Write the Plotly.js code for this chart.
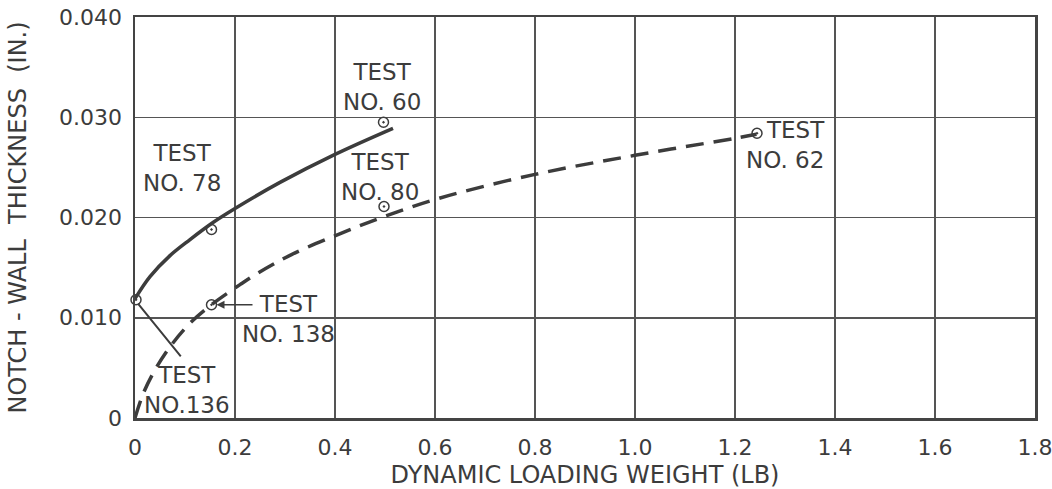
<!DOCTYPE html>
<html>
<head>
<meta charset="utf-8">
<script src="https://cdn.plot.ly/plotly-3.0.1.min.js"></script>
<style>html,body{margin:0;padding:0;background:#fff;}#chart{width:1052px;height:489px;}</style>
</head>
<body>
<div id="chart"></div>
<script>
// Solid curve (upper)
const solidX = [0, 0.03, 0.07, 0.11, 0.156, 0.2, 0.29, 0.4, 0.516];
const solidY = [0.0119, 0.0141, 0.0162, 0.0178, 0.0195, 0.0209, 0.0235, 0.0263, 0.0289];
// Dashed curve (lower)
const dashX = [0, 0.017, 0.04, 0.07, 0.107, 0.153, 0.21, 0.247, 0.313, 0.401, 0.493, 0.607, 0.8, 1.0, 1.2, 1.243];
const dashY = [0, 0.0025, 0.0048, 0.0071, 0.0093, 0.0113, 0.0133, 0.0145, 0.0163, 0.0182, 0.0200, 0.0219, 0.0243, 0.0262, 0.0279, 0.0283];
// Test points
const testNames = ['TEST<br>NO.136', 'TEST<br>NO. 78', 'TEST<br>NO. 60', 'TEST<br>NO. 138', 'TEST<br>NO. 80', 'TEST<br>NO. 62'];
const testX = [0.002, 0.153, 0.497, 0.153, 0.498, 1.244];
const testY = [0.0118, 0.0188, 0.0295, 0.0113, 0.0211, 0.0284];
// Label positions (data coords)
const labelX = [0.104, 0.094, 0.494, 0.306, 0.49, 1.384];
const labelY = [0.0028, 0.0249, 0.0330, 0.0099, 0.0240, 0.0272];
// Ticks
const xTickVals = [0, 0.2, 0.4, 0.6, 0.8, 1.0, 1.2, 1.4, 1.6, 1.8];
const xTickText = ['0', '0.2', '0.4', '0.6', '0.8', '1.0', '1.2', '1.4', '1.6', '1.8'];
const yTickVals = [0, 0.01, 0.02, 0.03, 0.04];
const yTickText = ['0', '0.010', '0.020', '0.030', '0.040'];

const ink = '#3c3c3c';
const font = 'DejaVu Sans, sans-serif';

const traces = [
  {x: solidX, y: solidY, mode: 'lines', line: {color: ink, width: 3.5, shape: 'spline', smoothing: 1}, cliponaxis: false, hoverinfo: 'skip'},
  {x: dashX, y: dashY, mode: 'lines', line: {color: ink, width: 3.5, shape: 'spline', smoothing: 1, dash: '18px,10px'}, cliponaxis: false, hoverinfo: 'skip'},
  {x: testX, y: testY, mode: 'markers', marker: {symbol: 'circle-open-dot', size: 10, color: ink, line: {width: 1.5, color: ink}}, cliponaxis: false, text: testNames}
];

const annotations = testNames.map((t, i) => ({
  x: labelX[i], y: labelY[i], xref: 'x', yref: 'y', text: t, showarrow: false,
  font: {family: font, size: 23, color: ink},
  xanchor: i === 5 ? 'right' : 'center', align: i === 5 ? 'right' : 'center', yanchor: 'middle'
}));
// Leader for Test 136
annotations.push({x: 0.006, y: 0.0114, xref: 'x', yref: 'y', ax: 0.094, ay: 0.006, axref: 'x', ayref: 'y',
  text: '', showarrow: true, arrowhead: 0, arrowwidth: 2, arrowcolor: ink, standoff: 0, startstandoff: 0});
// Arrow for Test 138
annotations.push({x: 0.163, y: 0.0113, xref: 'x', yref: 'y', ax: 0.238, ay: 0.0113, axref: 'x', ayref: 'y',
  text: '', showarrow: true, arrowhead: 2, arrowsize: 1, arrowwidth: 1.6, arrowcolor: ink, standoff: 0, startstandoff: 0});

const layout = {
  width: 1052, height: 489,
  margin: {l: 135, r: 17, t: 17, b: 71},
  paper_bgcolor: '#fff', plot_bgcolor: '#fff',
  showlegend: false,
  font: {family: font, color: ink},
  xaxis: {
    range: [0, 1.8], tickvals: xTickVals, ticktext: xTickText,
    showgrid: true, gridcolor: '#555', gridwidth: 1.5, zeroline: false,
    showline: true, linecolor: '#444', linewidth: 2.5, mirror: true,
    ticks: 'outside', ticklen: 8, tickcolor: 'rgba(0,0,0,0)',
    ticklabeloverflow: 'allow',
    tickfont: {family: font, size: 22, color: ink},
    title: {text: 'DYNAMIC LOADING WEIGHT (LB)', font: {family: font, size: 24, color: ink}, standoff: 8},
    automargin: false
  },
  yaxis: {
    range: [0, 0.04], tickvals: yTickVals, ticktext: yTickText,
    showgrid: true, gridcolor: '#555', gridwidth: 1.5, zeroline: false,
    showline: true, linecolor: '#444', linewidth: 2.5, mirror: true,
    ticks: 'outside', ticklen: 6, tickcolor: 'rgba(0,0,0,0)',
    ticklabeloverflow: 'allow',
    tickfont: {family: font, size: 22, color: ink},
    title: {text: 'NOTCH - WALL  THICKNESS  (IN.)', font: {family: font, size: 24, color: ink}, standoff: 26},
    automargin: false
  },
  annotations: annotations
};

Plotly.newPlot('chart', traces, layout, {staticPlot: true, displayModeBar: false});
</script>
</body>
</html>
